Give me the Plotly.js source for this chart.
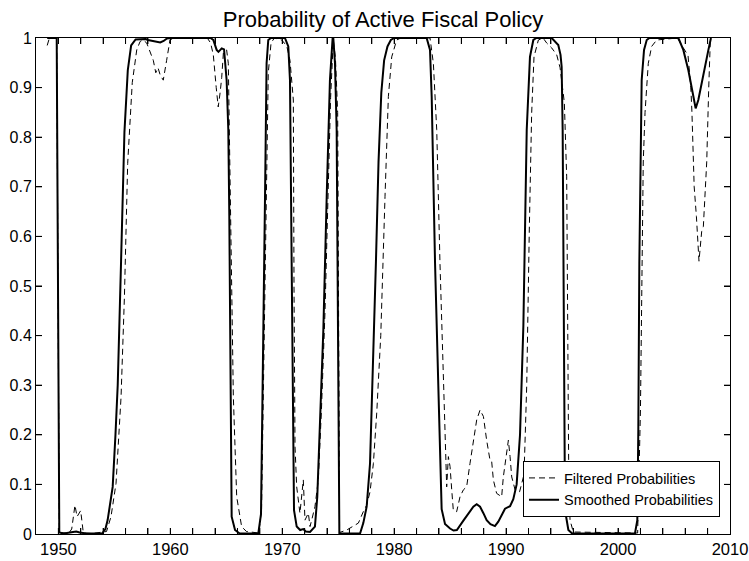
<!DOCTYPE html>
<html>
<head>
<meta charset="utf-8">
<script src="https://cdn.plot.ly/plotly-3.0.1.min.js"></script>
<style>html,body{margin:0;padding:0;background:#fff;}#chart{width:749px;height:561px;}</style>
</head>
<body>
<div id="chart"></div>
<script>
// Smoothed probabilities (solid line): dates (decimal years) and values
var smoothedDates = [1949.0,1949.85,1950.08,1950.5,1951.3,1951.6,1951.9,1952.5,1953.9,1954.2,1954.4,1954.85,1955.1,1955.3,1955.6,1955.9,1956.2,1956.5,1956.9,1957.8,1958.0,1958.5,1959.1,1959.4,1959.7,1960.0,1963.6,1963.84,1964.14,1964.3,1964.59,1964.8,1965.03,1965.18,1965.27,1965.48,1965.78,1966.2,1967.86,1968.1,1968.3,1968.46,1968.6,1968.75,1969.0,1970.24,1970.54,1970.69,1970.84,1971.05,1971.29,1971.6,1971.88,1972.1,1972.48,1972.92,1973.13,1973.37,1973.67,1973.97,1974.26,1974.5,1974.56,1974.71,1974.86,1975.1,1976.95,1977.24,1977.54,1977.84,1978.1,1978.37,1978.6,1978.85,1979.1,1979.4,1979.7,1980.0,1982.9,1983.2,1983.35,1983.65,1983.94,1984.24,1984.54,1984.99,1985.3,1985.6,1986.18,1986.7,1987.07,1987.37,1987.67,1987.97,1988.26,1988.6,1989.0,1989.3,1989.6,1989.9,1990.35,1990.64,1990.94,1991.24,1991.54,1991.84,1992.13,1992.43,1992.7,1994.07,1994.66,1994.86,1994.96,1995.05,1995.26,1995.56,1995.9,2001.51,2001.72,2001.81,2001.9,2002.02,2002.11,2002.32,2002.56,2002.8,2005.39,2005.83,2006.28,2006.73,2006.93,2007.17,2007.62,2008.07,2008.3];
var smoothedProb = [1.0,1.0,0.003,0.001,0.004,0.005,0.003,0.001,0.001,0.01,0.028,0.095,0.2,0.3,0.55,0.81,0.935,0.985,0.997,0.998,0.996,0.994,0.991,0.994,0.999,1.0,1.0,0.996,0.976,0.972,0.979,0.977,0.915,0.815,0.64,0.035,0.008,0.001,0.001,0.04,0.344,0.68,0.949,0.996,1.0,1.0,0.983,0.915,0.546,0.048,0.015,0.008,0.01,0.005,0.004,0.015,0.075,0.21,0.411,0.68,0.915,1.0,1.0,0.949,0.815,0.001,0.001,0.022,0.055,0.142,0.33,0.55,0.75,0.89,0.955,0.983,0.996,1.0,1.0,0.976,0.882,0.546,0.3,0.05,0.02,0.011,0.007,0.008,0.027,0.042,0.055,0.06,0.055,0.042,0.028,0.02,0.016,0.025,0.037,0.051,0.056,0.07,0.1,0.2,0.42,0.815,0.962,0.996,1.0,1.0,0.986,0.966,0.942,0.815,0.048,0.008,0.001,0.001,0.028,0.21,0.546,0.815,0.915,0.976,0.996,1.0,1.0,0.976,0.935,0.882,0.858,0.875,0.929,0.976,1.0];

// Filtered probabilities (dashed line)
var filteredDates = [1949.0,1949.2,1949.85,1950.08,1950.5,1951.0,1951.19,1951.48,1951.67,1951.99,1952.23,1953.0,1954.3,1954.7,1955.15,1955.6,1955.9,1956.19,1956.6,1957.0,1957.3,1957.55,1957.89,1958.2,1958.48,1958.7,1958.9,1959.1,1959.37,1959.67,1959.97,1960.3,1963.3,1963.6,1963.84,1964.1,1964.28,1964.45,1964.59,1964.74,1965.03,1965.18,1965.33,1965.63,1965.93,1966.37,1966.8,1967.9,1968.15,1968.35,1968.55,1968.75,1969.0,1969.3,1969.95,1970.4,1970.69,1970.99,1971.05,1971.14,1971.29,1971.58,1971.88,1972.03,1972.33,1972.48,1972.65,1972.92,1973.22,1973.5,1973.82,1974.11,1974.32,1974.56,1974.75,1974.95,1975.12,1975.76,1976.35,1976.8,1977.24,1977.54,1977.84,1978.14,1978.44,1978.8,1979.18,1979.48,1979.78,1980.22,1980.6,1983.2,1983.5,1983.8,1984.09,1984.39,1984.54,1984.69,1984.84,1984.99,1985.14,1985.28,1985.58,1985.88,1986.18,1986.47,1986.77,1987.07,1987.37,1987.67,1987.97,1988.26,1988.56,1988.71,1988.86,1989.15,1989.6,1989.75,1990.05,1990.2,1990.35,1990.5,1990.8,1991.2,1991.6,1991.84,1992.07,1992.28,1992.49,1992.88,1993.3,1993.62,1994.07,1994.52,1994.82,1995.2,1995.41,1995.5,1995.6,1995.71,1996.0,2001.75,2002.0,2002.25,2002.41,2002.7,2003.0,2003.45,2005.3,2005.83,2006.25,2006.5,2006.6,2006.8,2007.0,2007.23,2007.47,2007.62,2007.75,2007.92,2008.1,2008.25];
var filteredProb = [0.985,1.0,1.0,0.003,0.002,0.004,0.01,0.058,0.035,0.047,0.002,0.001,0.005,0.035,0.102,0.277,0.479,0.747,0.91,0.976,0.993,0.996,0.99,0.97,0.955,0.93,0.94,0.925,0.915,0.955,0.996,1.0,1.0,0.99,0.966,0.9,0.861,0.89,0.92,0.97,0.976,0.949,0.747,0.277,0.075,0.015,0.005,0.002,0.05,0.35,0.7,0.93,0.99,1.0,0.996,0.984,0.955,0.875,0.5,0.176,0.095,0.042,0.109,0.028,0.042,0.015,0.03,0.055,0.109,0.25,0.45,0.68,0.88,0.996,0.96,0.85,0.003,0.008,0.015,0.022,0.045,0.058,0.085,0.142,0.244,0.4,0.68,0.882,0.962,0.996,1.0,1.0,0.949,0.815,0.546,0.31,0.176,0.095,0.156,0.136,0.089,0.048,0.045,0.075,0.089,0.095,0.142,0.183,0.23,0.25,0.237,0.189,0.149,0.146,0.109,0.082,0.075,0.115,0.169,0.189,0.156,0.115,0.089,0.085,0.12,0.3,0.613,0.848,0.962,0.996,1.0,0.99,0.98,0.966,0.94,0.87,0.72,0.35,0.1,0.028,0.004,0.002,0.25,0.75,0.85,0.949,0.983,0.996,1.0,0.98,0.965,0.9,0.85,0.7,0.64,0.55,0.61,0.62,0.67,0.75,0.9,1.0];

var seriesNames = ['Filtered Probabilities','Smoothed Probabilities'];
var chartTitle = 'Probability of Active Fiscal Policy';

var traces = [
  {x: filteredDates, y: filteredProb, name: seriesNames[0], type: 'scatter', mode: 'lines',
   line: {color: '#000', width: 1, dash: '6px,4px'}},
  {x: smoothedDates, y: smoothedProb, name: seriesNames[1], type: 'scatter', mode: 'lines',
   line: {color: '#000', width: 2}}
];

// Inside tick marks (every 2 years on x, every 0.1 on y), on all four sides,
// drawn as Plotly shapes anchored to the axes so they always appear.
var TICK = 6;
var tickShapes = [];
for (var yr = 1950; yr <= 2008; yr += 2) {
  [[0, TICK], [1, -TICK]].forEach(function (s) {
    tickShapes.push({type: 'line', xref: 'x', yref: 'paper', x0: yr, x1: yr,
      ysizemode: 'pixel', yanchor: s[0], y0: 0, y1: s[1],
      line: {color: '#000', width: 1}, layer: 'above'});
  });
}
for (var k = 1; k <= 9; k++) {
  var v = k / 10;
  [[0, TICK], [1, -TICK]].forEach(function (s) {
    tickShapes.push({type: 'line', xref: 'paper', yref: 'y', y0: v, y1: v,
      xsizemode: 'pixel', xanchor: s[0], x0: 0, x1: s[1],
      line: {color: '#000', width: 1}, layer: 'above'});
  });
}

var layout = {
  width: 749, height: 561,
  margin: {l: 36, r: 19, t: 38, b: 27, pad: 0},
  font: {family: 'Liberation Sans', color: '#000', size: 16},
  title: {text: chartTitle, font: {family: 'Liberation Sans', size: 22, color: '#000'},
          x: 0.5, xref: 'paper', xanchor: 'center', y: 1 - 19/561, yref: 'container', yanchor: 'middle'},
  showlegend: true,
  legend: {x: 0.9856, xanchor: 'right', y: 0.0343, yanchor: 'bottom',
           bgcolor: '#fff', bordercolor: '#000', borderwidth: 1,
           font: {family: 'Liberation Sans', size: 14.5, color: '#000'}},
  shapes: tickShapes,
  xaxis: {range: [1948, 2010], tickmode: 'linear', tick0: 1950, dtick: 10,
          ticks: 'inside', ticklen: 6, tickwidth: 1, tickcolor: '#000',
          showline: true, linecolor: '#000', linewidth: 1, mirror: 'ticks',
          showgrid: false, zeroline: false, tickfont: {size: 16.5},
          minor: {tickmode: 'linear', tick0: 1950, dtick: 2, ticks: 'inside', ticklen: 6, tickwidth: 1, tickcolor: '#000', showgrid: false}},
  yaxis: {range: [0, 1], tickmode: 'linear', tick0: 0, dtick: 0.1,
          ticks: 'inside', ticklen: 6, tickwidth: 1, tickcolor: '#000',
          showline: true, linecolor: '#000', linewidth: 1, mirror: 'ticks',
          showgrid: false, zeroline: false}
};

Plotly.newPlot('chart', traces, layout, {displayModeBar: false, staticPlot: true});
</script>
</body>
</html>
